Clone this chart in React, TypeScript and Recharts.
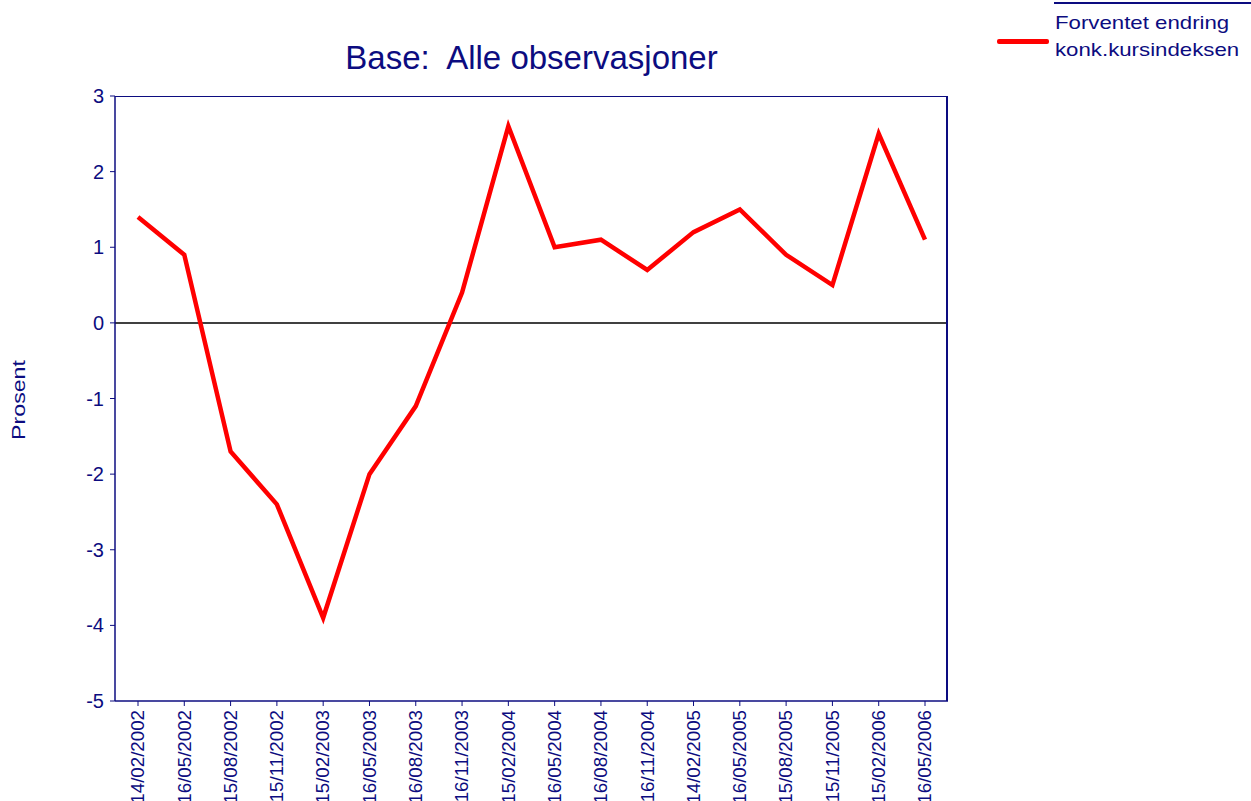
import React from "react";
import { LineChart, Line, XAxis, YAxis, ReferenceLine } from "recharts";

const categories = [
  "14/02/2002", "16/05/2002", "15/08/2002", "15/11/2002", "15/02/2003", "16/05/2003",
  "16/08/2003", "16/11/2003", "15/02/2004", "16/05/2004", "16/08/2004", "16/11/2004",
  "14/02/2005", "16/05/2005", "15/08/2005", "15/11/2005", "15/02/2006", "16/05/2006",
];
const values = [1.4, 0.9, -1.7, -2.4, -3.9, -2.0, -1.1, 0.4, 2.6, 1.0, 1.1, 0.7, 1.2, 1.5, 0.9, 0.5, 2.5, 1.1];
const yTicks = [-5, -4, -3, -2, -1, 0, 1, 2, 3];
const seriesName = "Forventet endring konk.kursindeksen";
const legendLines = ["Forventet endring", "konk.kursindeksen"];

const data = categories.map((c, i) => ({ date: c, value: values[i] }));

const NAVY = "#0c0c80";
const FONT = "Arial, 'Liberation Sans', sans-serif";

const XTick = (props: any) => {
  const { x, y, payload } = props;
  return (
    <g transform={`translate(${x},${y + 2})`}>
      <text
        transform="rotate(-90) scale(1.04,1)"
        textAnchor="end"
        dy="0.35em"
        fill={NAVY}
        fontSize={18}
        fontFamily={FONT}
      >
        {payload.value}
      </text>
    </g>
  );
};

export default function App() {
  return (
    <div style={{ position: "absolute", left: 0, top: 0, width: 1251, height: 801, background: "#fff", overflow: "hidden" }}>
      <div
        style={{
          position: "absolute",
          left: 115,
          width: 833,
          top: 39,
          textAlign: "center",
          color: NAVY,
          fontSize: 33,
          fontFamily: FONT,
          whiteSpace: "nowrap",
        }}
      >
        Base:&nbsp; Alle observasjoner
      </div>
      <div
        style={{
          position: "absolute",
          left: 19,
          top: 400,
          transform: "translate(-50%, -50%) rotate(-90deg) scaleX(1.22)",
          color: NAVY,
          fontSize: 19,
          fontFamily: FONT,
          whiteSpace: "nowrap",
        }}
      >
        Prosent
      </div>
      <div style={{ position: "absolute", left: 996, top: 0, width: 260, height: 70, fontFamily: FONT }}>
        <div style={{ position: "absolute", left: 58, top: 2, width: 200, height: 2, background: NAVY }} />
        <div style={{ position: "absolute", left: 1, top: 39, width: 52, height: 5, background: "#ff0000", borderRadius: 2 }} />
        <div
          style={{
            position: "absolute",
            left: 59,
            top: 9,
            color: NAVY,
            fontSize: 19,
            lineHeight: "27px",
            whiteSpace: "nowrap",
            transform: "scaleX(1.17)",
            transformOrigin: "left top",
          }}
        >
          {legendLines.map((l) => (
            <div key={l}>{l}</div>
          ))}
        </div>
      </div>
      <LineChart
        width={1251}
        height={801}
        data={data}
        margin={{ top: 96, right: 303, bottom: 0, left: 55 }}
        style={{ overflow: "visible", position: "absolute", left: 0, top: 0 }}
      >
        <XAxis
          dataKey="date"
          interval={0}
          height={100}
          padding={{ left: 23, right: 23 }}
          tick={<XTick />}
          tickSize={5}
          axisLine={{ stroke: NAVY, strokeWidth: 1.5 }}
          tickLine={{ stroke: NAVY }}
        />
        <YAxis
          domain={[-5, 3]}
          ticks={yTicks}
          width={60}
          tickSize={5}
          tickMargin={6}
          tick={{ fill: NAVY, fontSize: 20, fontFamily: FONT }}
          axisLine={{ stroke: NAVY, strokeWidth: 1.5 }}
          tickLine={{ stroke: NAVY }}
          allowDataOverflow
        />
        <ReferenceLine y={0} stroke="#000" strokeWidth={1.5} />
        <Line
          type="linear"
          dataKey="value"
          name={seriesName}
          stroke="#ff0000"
          strokeWidth={4.5}
          dot={false}
          isAnimationActive={false}
        />
      </LineChart>
      <div
        style={{
          position: "absolute",
          left: 115,
          top: 96,
          width: 833,
          height: 605,
          boxSizing: "border-box",
          borderTop: `1.5px solid ${NAVY}`,
          borderRight: `2px solid ${NAVY}`,
          pointerEvents: "none",
        }}
      />
    </div>
  );
}
